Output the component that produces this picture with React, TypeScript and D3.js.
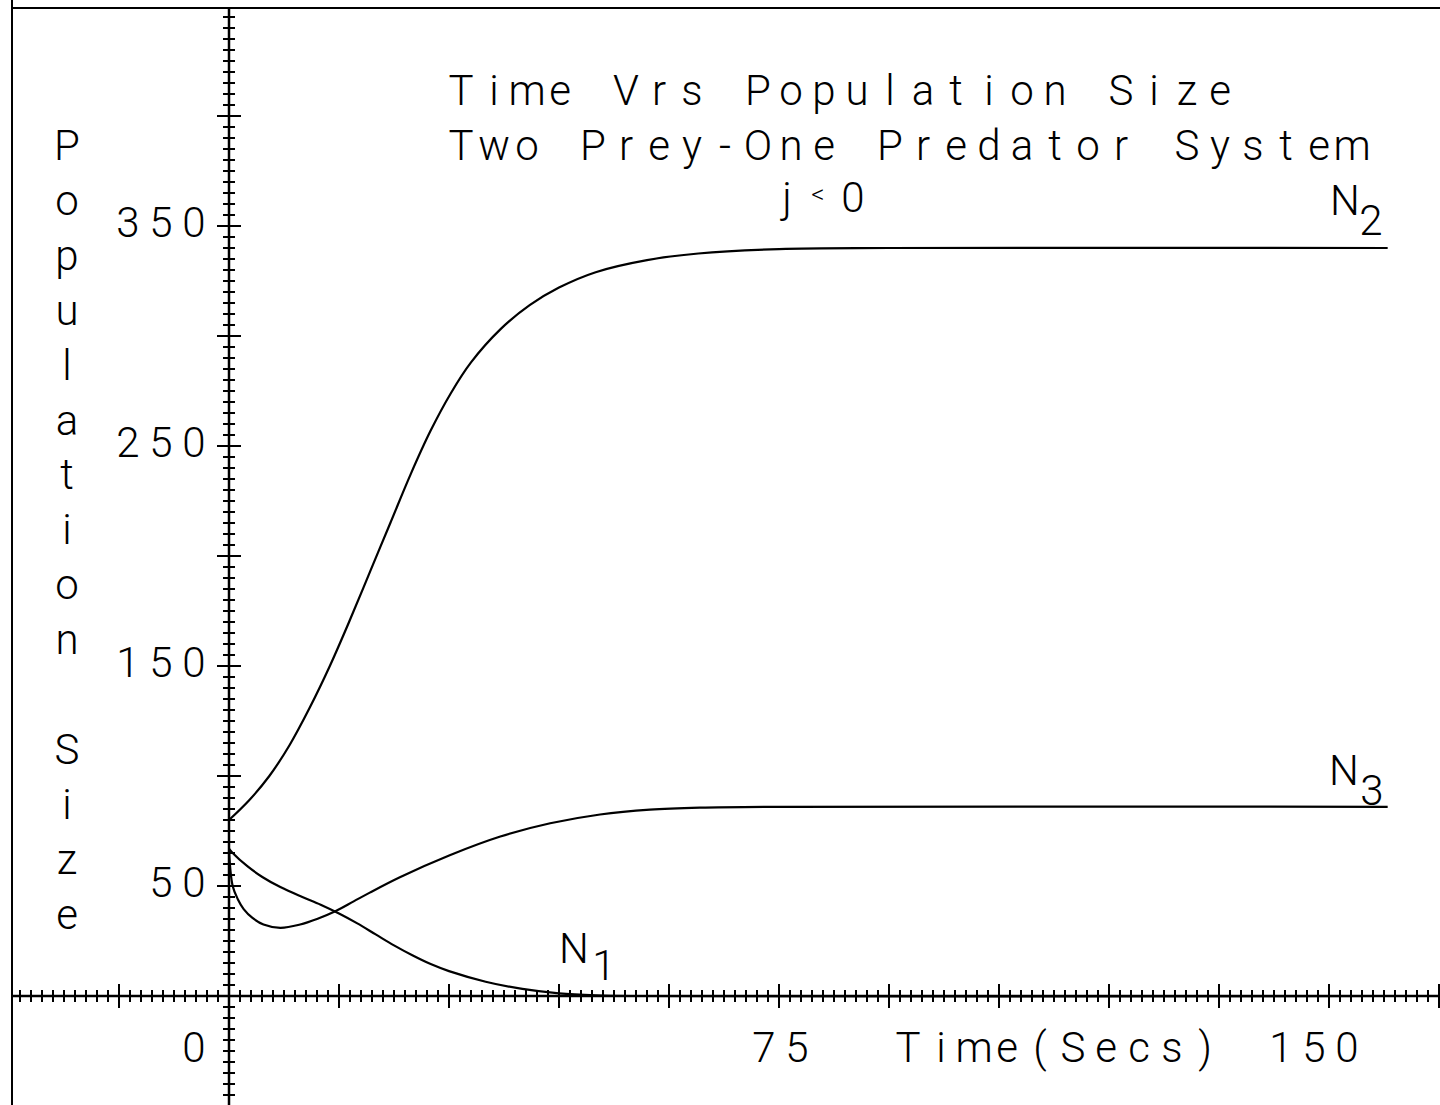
import React from "react";
import * as d3 from "d3";

// ---- data ----
const timeN2 = [0, 2.75, 5.5, 8.25, 11, 13.75, 16.5, 19.25, 22, 24.75, 27.5, 30.25, 33, 37, 41, 45, 50, 57, 64, 75, 90, 158];
const popN2 = [80, 89, 100, 114, 131, 150, 171, 193, 215, 237, 257, 274, 288, 303, 314, 322, 329, 334.5, 337.5, 339.5, 340, 340];

const timeN3 = [0, 0.5, 1.2, 2, 3.2, 4.7, 7, 9.7, 12, 14.5, 17, 19.2, 23.3, 30.1, 37, 43.8, 50.6, 57.4, 64.2, 75, 158];
const popN3 = [66, 50, 44, 39.5, 35.5, 32.5, 31, 32.5, 35, 38.5, 43, 47, 54, 64, 72.5, 78.5, 82.5, 84.7, 85.6, 86, 86];

const timeN1 = [0, 0.5, 2.5, 4.6, 7, 10, 12.5, 15, 17.5, 20, 22.5, 25, 27.5, 30, 35, 40, 45, 50, 55, 158];
const popN1 = [67, 65, 59, 54, 49.5, 45, 41.5, 37.5, 33, 28, 23, 18.5, 14.5, 11.3, 6.5, 3.2, 1.2, 0.3, 0, 0];

const yTickLabels = [350, 250, 150, 50];
const xTickLabels = [0, 75, 150];
const xMinorStep = 1.5;
const xMajorStep = 15;
const yMinorStep = 5;
const yMajorStep = 50;

const titleLines = ["Time Vrs Population Size", "Two Prey-One Predator System"];
const yAxisTitle = "Population Size";
const xAxisTitle = "Time(Secs)";

const W = 1440;
const H = 1105;
const FONT = "Roboto, 'DejaVu Sans', sans-serif";
const ADV = 33;

function MonoText({ text, x, y, size = 42, anchor = "start", adv = ADV }: any) {
  const chars = Array.from(text as string);
  const n = chars.length;
  const xs = chars.map((_, i) => (anchor === "end" ? x - (n - 1 - i) * adv : x + i * adv));
  return (
    <text
      x={xs.join(" ")}
      y={y}
      textAnchor="middle"
      fontFamily={FONT}
      fontWeight={300}
      fontSize={size}
      fill="#000"
      style={{ whiteSpace: "pre" }}
    >
      {text}
    </text>
  );
}

export default function App() {
  const x = d3.scaleLinear().domain([0, 150]).range([229, 1329]);
  const y = d3.scaleLinear().domain([0, 350]).range([996, 226]);

  const xLeft = 12;
  const yTop = 8;

  const tMin = x.invert(xLeft);
  const tMax = x.invert(W);
  const vMax = y.invert(yTop);
  const vMin = y.invert(H);

  const xMinor = d3.range(Math.ceil(tMin / xMinorStep) * xMinorStep, tMax + 0.01, xMinorStep);
  const yMinor = d3.range(Math.ceil(vMin / yMinorStep) * yMinorStep, vMax + 0.01, yMinorStep);

  const isMajor = (v: number, step: number) => Math.abs(v / step - Math.round(v / step)) < 1e-6;

  const line = d3
    .line<[number, number]>()
    .x((d) => x(d[0]))
    .y((d) => y(d[1]))
    .curve(d3.curveCatmullRom.alpha(0.5));

  const series = [
    d3.zip(timeN2, popN2) as [number, number][],
    d3.zip(timeN3, popN3) as [number, number][],
    d3.zip(timeN1, popN1) as [number, number][],
  ];

  const x0 = x(0);
  const y0 = y(0);

  const yTitleChars = Array.from(yAxisTitle);

  return (
    <svg width={W} height={H} style={{ position: "absolute", left: 0, top: 0, background: "#fff" }}>
      <rect x={0} y={0} width={W} height={H} fill="#fff" />
      {/* frame */}
      <line x1={xLeft} y1={0} x2={xLeft} y2={H} stroke="#000" strokeWidth={2} />
      <line x1={xLeft} y1={yTop} x2={W} y2={yTop} stroke="#000" strokeWidth={2} />

      {/* x axis */}
      <line x1={xLeft} y1={y0} x2={W} y2={y0} stroke="#000" strokeWidth={2.5} />
      {xMinor.map((t, i) => {
        const m = isMajor(t, xMajorStep);
        const h = m ? 12 : 6;
        return <line key={"xt" + i} x1={x(t)} x2={x(t)} y1={y0 - h} y2={y0 + h} stroke="#000" strokeWidth={2} />;
      })}

      {/* y axis */}
      <line x1={x0} y1={yTop} x2={x0} y2={H} stroke="#000" strokeWidth={2.5} />
      {yMinor.map((v, i) => {
        const m = isMajor(v, yMajorStep);
        const h = m ? 12 : 6;
        return <line key={"yt" + i} x1={x0 - h} x2={x0 + h} y1={y(v)} y2={y(v)} stroke="#000" strokeWidth={2} />;
      })}

      {/* curves */}
      {series.map((s, i) => (
        <path key={"s" + i} d={line(s) || ""} fill="none" stroke="#000" strokeWidth={2.2} />
      ))}

      {/* titles */}
      <MonoText text={titleLines[0]} x={461} y={105} />
      <MonoText text={titleLines[1]} x={461} y={160} />

      {/* y axis title, stacked */}
      <text
        x={yTitleChars.map(() => 67).join(" ")}
        y={yTitleChars.map((_, i) => 160 + i * 54.9).join(" ")}
        textAnchor="middle"
        fontFamily={FONT}
        fontWeight={300}
        fontSize={42}
        fill="#000"
        style={{ whiteSpace: "pre" }}
      >
        {yAxisTitle}
      </text>

      {/* y tick labels */}
      {yTickLabels.map((v) => (
        <MonoText key={"yl" + v} text={String(v)} x={194} y={y(v) + 11} anchor="end" />
      ))}

      {/* x tick labels */}
      {xTickLabels.map((v) => (
        <MonoText
          key={"xl" + v}
          text={String(v)}
          x={v === 0 ? x(v) - 35 : x(v) + 18}
          y={1062}
          anchor="end"
        />
      ))}
      <MonoText text={xAxisTitle} x={908} y={1062} />

      {/* annotations */}
      <text x={787} y={212} textAnchor="middle" fontFamily={FONT} fontWeight={300} fontSize={42} fill="#000">
        j
      </text>
      <text x={818} y={203} textAnchor="middle" fontFamily={FONT} fontWeight={300} fontSize={26} fill="#000">
        {"<"}
      </text>
      <text x={853} y={212} textAnchor="middle" fontFamily={FONT} fontWeight={300} fontSize={42} fill="#000">
        0
      </text>

      <MonoText text="N" x={1345} y={215} />
      <MonoText text="2" x={1371} y={235} />
      <MonoText text="N" x={1344} y={785} />
      <MonoText text="3" x={1372} y={805} />
      <MonoText text="N" x={574} y={963} />
      <MonoText text="1" x={604} y={980} />
    </svg>
  );
}
